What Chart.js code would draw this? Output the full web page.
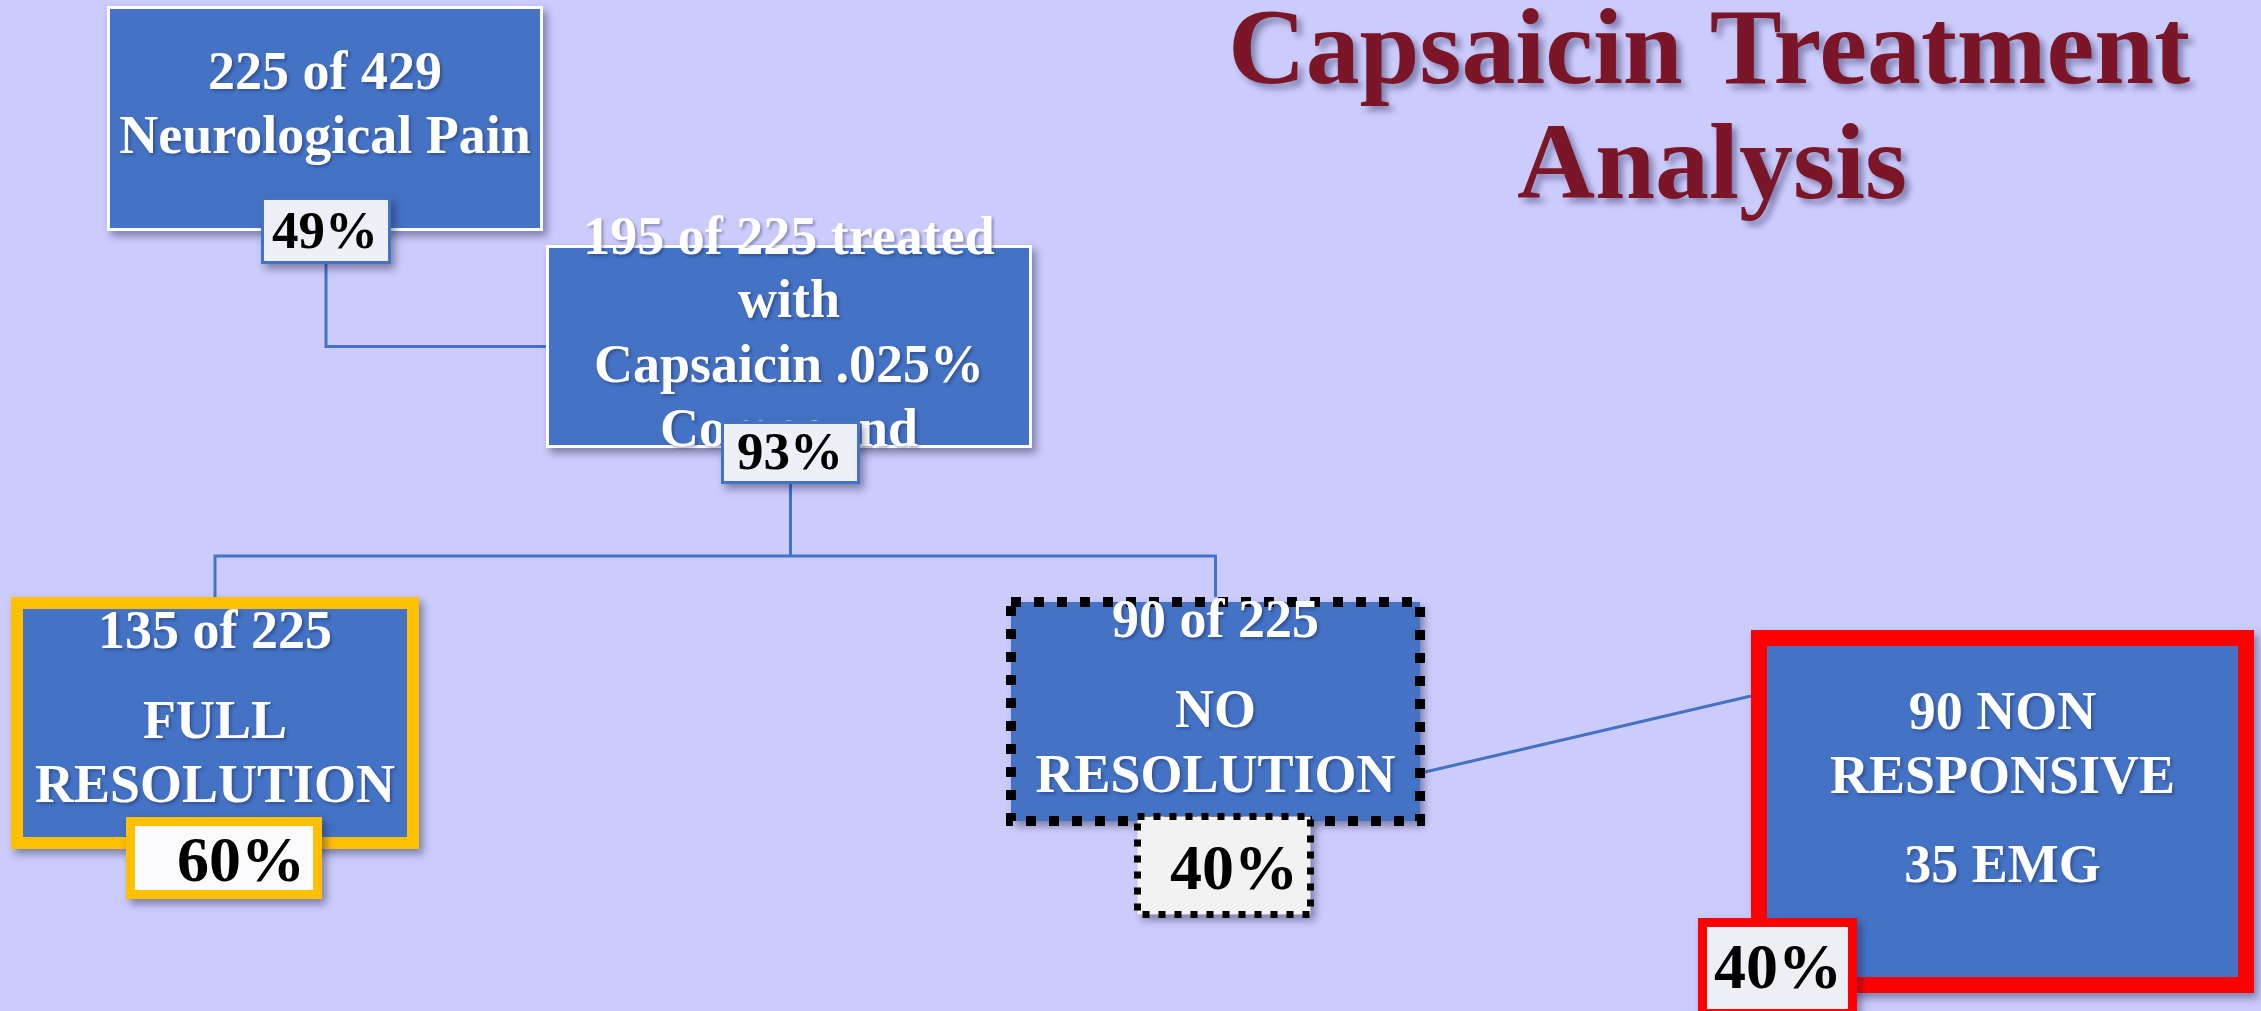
<!DOCTYPE html>
<html>
<head>
<meta charset="utf-8">
<script src="https://cdn.jsdelivr.net/npm/chart.js@4.4.1/dist/chart.umd.min.js"></script>
<style>
html, body { margin: 0; padding: 0; background: #ccccfc; overflow: hidden; }
#wrap { width: 2261px; height: 1011px; }
</style>
</head>
<body>
<div id="wrap"><canvas id="flowChart" width="2261" height="1011"></canvas></div>
<script>
// text content of the flow chart
const titleLines = ['Capsaicin Treatment', 'Analysis'];
const nodeText = [
    ['225 of 429', 'Neurological Pain'],
    ['195 of 225 treated', 'with', 'Capsaicin .025%', 'Compound'],
    ['135 of 225', 'FULL', 'RESOLUTION'],
    ['90 of 225', 'NO', 'RESOLUTION'],
    ['90 NON', 'RESPONSIVE', '35 EMG']
];
const nodePercent = ['49%', '93%', '60%', '40%', '40%'];

// layout in scale units (scale runs 0..2261 x 0..1011)
const boxes = [
    {x: 107, y: 6, w: 436, h: 225},
    {x: 546, y: 245, w: 486, h: 203},
    {x: 11, y: 597, w: 408, h: 252},
    {x: 1006, y: 597, w: 419, h: 229},
    {x: 1751, y: 630, w: 503, h: 363}
];
const lineOffsets = [
    [83, 147],
    [9, 72, 137, 201],
    [51, 141, 205],
    [40, 130, 195],
    [99, 163, 252]
];
const tags = [
    {x: 261, y: 197, w: 130, h: 67, tx: 64, ty: 51, size: 53},
    {x: 721, y: 421, w: 139, h: 63, tx: 69, ty: 48, size: 53},
    {x: 126, y: 817, w: 196, h: 82, tx: 115, ty: 64, size: 64},
    {x: 1134, y: 813, w: 180, h: 105, tx: 100, ty: 76, size: 64},
    {x: 1698, y: 918, w: 159, h: 100, tx: 80, ty: 70, size: 64}
];
const boxStyles = [
    {stroke: '#ffffff', lw: 3},
    {stroke: '#ffffff', lw: 3},
    {stroke: '#ffc000', lw: 12},
    {stroke: '#000000', lw: 10, dash: [10, 13], centred: true},
    {stroke: '#ff0000', lw: 16}
];
const tagStyles = [
    {fill: '#eef0f7', stroke: '#4472c4', lw: 3},
    {fill: '#eef0f7', stroke: '#4472c4', lw: 3},
    {fill: '#fbfbfd', stroke: '#ffc000', lw: 9},
    {fill: '#f2f2f2', stroke: '#000000', lw: 7, dash: [7, 9], centred: true},
    {fill: '#eeeff5', stroke: '#ff0000', lw: 9}
];
const busY = 556;
const FONT = '"Liberation Serif", "Times New Roman", serif';

// connectors built from the box geometry
function midX(r){ return r.x + r.w / 2; }
const links = [
    [{x: midX(tags[0]), y: tags[0].y + tags[0].h}, {x: midX(tags[0]), y: boxes[1].y + boxes[1].h / 2}, {x: boxes[1].x, y: boxes[1].y + boxes[1].h / 2}],
    [{x: midX(tags[1]), y: tags[1].y + tags[1].h}, {x: midX(tags[1]), y: busY}],
    [{x: midX(boxes[2]), y: boxes[2].y}, {x: midX(boxes[2]), y: busY}, {x: midX(boxes[3]), y: busY}, {x: midX(boxes[3]), y: boxes[3].y}],
    [{x: boxes[3].x + boxes[3].w, y: boxes[3].y + boxes[3].h * 0.764}, {x: boxes[4].x, y: boxes[4].y + boxes[4].h * 0.182}]
];

function toPx(chart, r){
    const xs = chart.scales.x, ys = chart.scales.y;
    const x0 = xs.getPixelForValue(r.x), x1 = xs.getPixelForValue(r.x + r.w);
    const y0 = ys.getPixelForValue(r.y), y1 = ys.getPixelForValue(r.y + r.h);
    return {x: x0, y: y0, w: x1 - x0, h: y1 - y0};
}

function drawRect(ctx, p, fill, style){
    const half = style.lw / 2;
    // dotted borders sit on the edge of the fill, solid ones inside it
    const f = style.centred ? {x: p.x + half, y: p.y + half, w: p.w - style.lw, h: p.h - style.lw} : p;
    ctx.save();
    ctx.shadowColor = 'rgba(30,30,70,0.45)';
    ctx.shadowBlur = 8;
    ctx.shadowOffsetX = 4;
    ctx.shadowOffsetY = 5;
    ctx.fillStyle = fill;
    ctx.fillRect(f.x, f.y, f.w, f.h);
    ctx.restore();
    ctx.save();
    ctx.strokeStyle = style.stroke;
    ctx.lineWidth = style.lw;
    ctx.lineCap = 'butt';
    if (style.dash) ctx.setLineDash(style.dash);
    ctx.strokeRect(p.x + half, p.y + half, p.w - style.lw, p.h - style.lw);
    ctx.restore();
}

const flowPlugin = {
    id: 'flowPlugin',
    beforeDraw(chart){
        const ctx = chart.ctx;
        ctx.save();
        ctx.fillStyle = '#ccccfc';
        ctx.fillRect(0, 0, chart.width, chart.height);
        ctx.restore();
    },
    afterDatasetsDraw(chart){
        const ctx = chart.ctx;
        const xs = chart.scales.x, ys = chart.scales.y;
        for ( let i = 0 ; i < boxes.length ; i++ ){
            const p = toPx(chart, boxes[i]);
            drawRect(ctx, p, '#4472c4', boxStyles[i]);
            ctx.save();
            ctx.fillStyle = '#ffffff';
            ctx.font = 'bold 54px ' + FONT;
            ctx.textAlign = 'center';
            ctx.textBaseline = 'alphabetic';
            ctx.shadowColor = 'rgba(20,20,60,0.35)';
            ctx.shadowBlur = 3;
            ctx.shadowOffsetX = 2;
            ctx.shadowOffsetY = 2;
            nodeText[i].forEach((line, j) => {
                ctx.fillText(line, p.x + p.w / 2, ys.getPixelForValue(boxes[i].y + lineOffsets[i][j]));
            });
            ctx.restore();
            const t = tags[i];
            const tp = toPx(chart, t);
            drawRect(ctx, tp, tagStyles[i].fill, tagStyles[i]);
            ctx.save();
            ctx.fillStyle = '#000000';
            ctx.font = 'bold ' + t.size + 'px ' + FONT;
            ctx.textAlign = 'center';
            ctx.fillText(nodePercent[i], xs.getPixelForValue(t.x + t.tx), ys.getPixelForValue(t.y + t.ty));
            ctx.restore();
        }
        // title
        ctx.save();
        ctx.fillStyle = '#7b1528';
        ctx.font = 'bold 108px ' + FONT;
        ctx.textAlign = 'center';
        ctx.shadowColor = 'rgba(40,40,90,0.45)';
        ctx.shadowBlur = 6;
        ctx.shadowOffsetX = 5;
        ctx.shadowOffsetY = 5;
        ctx.fillText(titleLines[0], xs.getPixelForValue(1709), ys.getPixelForValue(83), 962);
        ctx.fillText(titleLines[1], xs.getPixelForValue(1712), ys.getPixelForValue(198));
        ctx.restore();
    }
};

const datasets = links.map(pts => ({
    data: pts,
    showLine: true,
    borderColor: '#4472c4',
    borderWidth: 3,
    pointRadius: 0,
    tension: 0
}));

new Chart('flowChart', {
    type: 'scatter',
    data: {datasets: datasets},
    options: {
        responsive: false,
        animation: false,
        layout: {padding: 0},
        plugins: {
            legend: {display: false},
            tooltip: {enabled: false}
        },
        scales: {
            x: {type: 'linear', min: 0, max: 2261, display: false},
            y: {type: 'linear', min: 0, max: 1011, reverse: true, display: false}
        }
    },
    plugins: [flowPlugin]
});
</script>
</body>
</html>
